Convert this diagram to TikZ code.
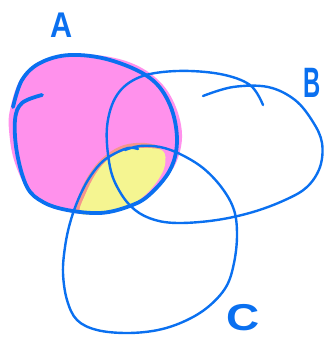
\documentclass[tikz,border=0pt]{standalone}
\usepackage{fontspec}
\setmainfont{Liberation Sans}
\definecolor{pen}{RGB}{10,112,240}
\definecolor{pinkfill}{RGB}{255,145,236}
\definecolor{yellowfill}{RGB}{245,245,145}
\definecolor{salmon}{RGB}{245,150,140}
\tikzset{
  thickpen/.style={draw=pen,line width=3.8pt,line cap=round,line join=round},
  thinpen/.style={draw=pen,line width=2.4pt,line cap=round,line join=round},
  letter/.style={text=pen,font=\fontsize{34}{34}\selectfont\bfseries,inner sep=0pt}
}
\begin{document}
\begin{tikzpicture}[x=1pt,y=-1pt]
\useasboundingbox (0,0) rectangle (323,339);
% pink fill
\fill[pinkfill] plot[smooth cycle,tension=0.6] coordinates {(10,110) (20,80) (40,62) (70,54) (110,57) (140,67) (163,85) (177,110) (182,138) (175,165) (158,186) (135,203) (105,214) (75,213) (50,206) (28,190) (14,160) (9,130)};
% salmon fringe
\fill[salmon] plot[smooth cycle,tension=0.6] coordinates {(76,210) (81,190) (92,170) (106,155) (124,145) (145,143) (160,148) (150,160) (100,200)};
% yellow fill
\fill[yellowfill] plot[smooth cycle,tension=0.6] coordinates {(80,213) (86,193) (97,172) (110,158) (127,150) (146,148) (163,151) (165,165) (158,180) (145,195) (127,207) (100,213)};
% A outline
\draw[thickpen] plot[smooth,tension=0.6] coordinates {(13,107) (22,80) (40,63) (70,55) (110,60) (150,78) (170,105) (177,140) (170,170) (148,196) (127,207) (100,213) (67,210) (43,202) (27,187) (17,153) (15,120) (22,103) (42,95)};
% B outline
\draw[thinpen] plot[smooth,tension=0.6] coordinates {(263,105) (250,85) (220,74) (177,71) (140,77) (117,95) (107,127) (110,167) (120,192) (135,210) (155,220) (180,223) (217,220) (253,212) (285,200) (307,187) (320,167) (322,143) (313,122) (295,100) (268,87) (233,87) (203,96)};
% C outline
\draw[thinpen] plot[smooth,tension=0.6] coordinates {(125,150) (140,146) (160,147) (180,154) (203,168) (222,188) (234,210) (237,235) (234,263) (226,287) (208,307) (185,321) (158,330) (127,333) (97,330) (77,320) (67,300) (63,273) (65,247) (70,223) (78,200) (88,180) (100,164) (112,155) (128,148) (138,149)};
% labels
\node[letter,xscale=0.9,yscale=1.05] (la) at (62,25) {A};
\node[letter,xscale=0.7,yscale=1.25] (lb) at (312,83) {B};
\node[letter,xscale=1.35,yscale=1.1] (lc) at (243,318) {C};
\end{tikzpicture}
\end{document}
